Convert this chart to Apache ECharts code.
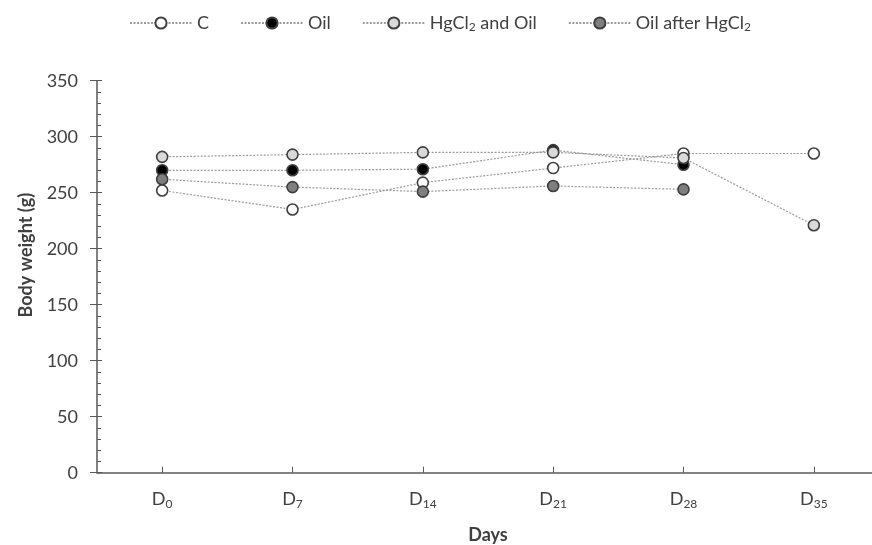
<!DOCTYPE html>
<html><head><meta charset="utf-8">
<script src="https://cdn.jsdelivr.net/npm/echarts@6/dist/echarts.min.js"></script>
<style>html,body{margin:0;padding:0;background:#fff}#c{width:872px;height:545px}</style>
</head><body><div id="c"></div>
<script>
const days = ['0', '7', '14', '21', '28', '35'];
const seriesNames = ['C', 'Oil', 'HgCl2 and Oil', 'Oil after HgCl2'];
const cValues = [252, 235, 259, 272, 285, 285];
const oilValues = [270, 270, 271, 288, 275, null];
const hgOilValues = [282, 284, 286, 286, 281, 221];
const oilAfterValues = [262, 255, 251, 256, 253, null];
const yTicks = [0, 50, 100, 150, 200, 250, 300, 350];

const fills = ['#ffffff', '#000000', '#d9d9d9', '#7f7f7f'];
const allValues = [cValues, oilValues, hgOilValues, oilAfterValues];
const FONT = 'Lato';
const TXT = '#404040';
const AX = '#595959';

function legendFmt(n) {
  return n.split(/(HgCl2)/).map(p => p === 'HgCl2' ? '{a|HgCl}{s|2}' : (p ? '{a|' + p + '}' : '')).join('');
}

const chart = echarts.init(document.getElementById('c'), null, {renderer: 'canvas'});
chart.setOption({
  animation: false,
  backgroundColor: '#ffffff',
  legend: {
    top: 9, left: 124,
    itemWidth: 62, itemHeight: 14, itemGap: 31,
    data: seriesNames,
    formatter: legendFmt,
    textStyle: {
      fontFamily: FONT, color: TXT,
      rich: {
        a: {fontFamily: FONT, fontSize: 18, color: TXT},
        s: {fontFamily: FONT, fontSize: 12, color: TXT, verticalAlign: 'top', padding: [9, 0, 0, 0]}
      }
    }
  },
  grid: {left: 97, top: 80.7, bottom: 72.3, width: 782, containLabel: false, outerBoundsMode: 'none'},
  xAxis: {
    type: 'category',
    data: days,
    boundaryGap: true,
    name: 'Days', nameLocation: 'middle', nameGap: 53,
    nameTextStyle: {fontFamily: FONT, fontSize: 18, fontWeight: 'bold', color: TXT},
    axisLine: {lineStyle: {color: AX, width: 1.5}},
    axisTick: {show: true, alignWithLabel: true, inside: true, length: 6, lineStyle: {color: AX, width: 1}},
    axisLabel: {
      margin: 16,
      formatter: v => '{a|D}{s|' + v + '}',
      rich: {
        a: {fontFamily: FONT, fontSize: 18, color: TXT},
        s: {fontFamily: FONT, fontSize: 12, color: TXT, verticalAlign: 'top', padding: [9, 0, 0, 0]}
      }
    },
    splitLine: {show: false}
  },
  yAxis: [{
    type: 'value', min: 0, max: 350, interval: 50,
    name: 'Body weight (g)', nameLocation: 'middle', nameGap: 62,
    nameTextStyle: {fontFamily: FONT, fontSize: 18, fontWeight: 'bold', color: TXT, padding: [0, 0, 0, 43]},
    axisLine: {show: true, lineStyle: {color: AX, width: 1.5}},
    axisTick: {show: true, inside: false, length: 7, lineStyle: {color: AX, width: 1}},
    axisLabel: {fontFamily: FONT, fontSize: 18, color: TXT, margin: 19,
      formatter: v => yTicks.includes(v) ? String(v) : ''},
    splitLine: {show: false}
  }, {
    type: 'value', min: 0, max: 350, interval: 50, position: 'left',
    axisLine: {show: false},
    axisTick: {show: true, inside: true, length: 5, lineStyle: {color: AX, width: 1}},
    minorTick: {show: true, splitNumber: 5, length: 4, lineStyle: {color: AX, width: 1}},
    axisLabel: {show: false},
    splitLine: {show: false}
  }],
  series: seriesNames.map((n, i) => ({
    name: n,
    type: 'line',
    data: allValues[i],
    symbol: 'circle',
    symbolSize: 11,
    connectNulls: false,
    lineStyle: {color: '#9a9a9a', width: 1.2, type: [2, 1.5]},
    itemStyle: {color: fills[i], borderColor: '#3f3f3f', borderWidth: 1.6},
    z: 2 + i
  }))
});
</script></body></html>
